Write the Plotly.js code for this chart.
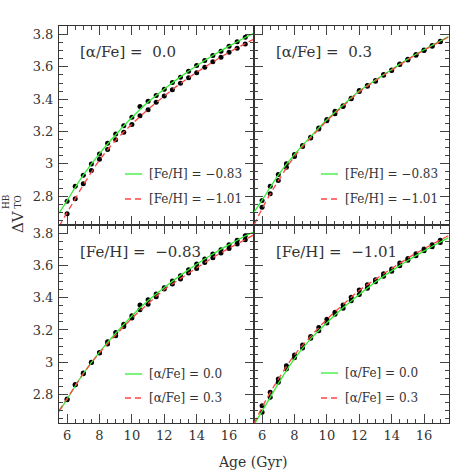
<!DOCTYPE html>
<html><head><meta charset="utf-8">
<script src="https://cdn.plot.ly/plotly-3.0.1.min.js"></script>
<style>html,body{margin:0;padding:0;background:#fff}#c{width:474px;height:474px}</style>
</head><body><div id="c"></div>
<script>
// Ages of model points (Gyr)
const age = [6,6.5,7,7.5,8,8.5,9,9.5,10,10.5,11,11.5,12,12.5,13,13.5,14,14.5,15,15.5,16,16.5,17];
// ΔV(HB-TO) model points
const dV_a00_m083 = [2.768,2.861,2.929,2.999,3.061,3.127,3.185,3.235,3.288,3.354,3.387,3.422,3.461,3.503,3.536,3.573,3.608,3.639,3.670,3.697,3.728,3.755,3.783];
const dV_a00_m101 = [2.690,2.783,2.876,2.958,3.028,3.088,3.148,3.195,3.243,3.298,3.334,3.381,3.420,3.458,3.499,3.532,3.563,3.598,3.631,3.659,3.690,3.715,3.742];
const dV_a03_m083 = [2.772,2.861,2.933,3.000,3.057,3.113,3.164,3.222,3.274,3.325,3.360,3.406,3.453,3.484,3.515,3.552,3.581,3.618,3.647,3.676,3.705,3.732,3.759];
const dV_a03_m101 = [2.731,2.814,2.896,2.978,3.045,3.107,3.160,3.216,3.267,3.309,3.354,3.402,3.447,3.480,3.511,3.548,3.577,3.614,3.643,3.672,3.701,3.728,3.755];
// fitted curves
const fitAge = [5.5,6,6.5,7,8,9,10,11,12,13,14,15,16,17,17.5];
const fit_a00_m083 = [2.694,2.772,2.853,2.930,3.063,3.180,3.287,3.382,3.463,3.538,3.607,3.670,3.728,3.782,3.806];
const fit_a00_m101 = [2.612,2.698,2.783,2.868,3.022,3.145,3.245,3.337,3.420,3.497,3.566,3.630,3.690,3.744,3.770];
const fit_a03_m083 = [2.700,2.775,2.853,2.930,3.058,3.168,3.272,3.363,3.450,3.518,3.584,3.648,3.706,3.760,3.787];
const fit_a03_m101 = [2.620,2.722,2.812,2.895,3.045,3.160,3.266,3.357,3.445,3.514,3.580,3.645,3.703,3.757,3.784];
// panel text
const panelTitles = ['[α/Fe] =  0.0','[α/Fe] =  0.3','[Fe/H] =  −0.83','[Fe/H] =  −1.01'];
const legendTop = ['[Fe/H] = −0.83','[Fe/H] = −1.01'];
const legendBot = ['[α/Fe] = 0.0','[α/Fe] = 0.3'];

const GREEN = '#33ee33', RED = '#ff4444', INK = '#333';
const FONT = 'DejaVu Serif, serif';
const panels = [
  {xa:'x', ya:'y',  g:[dV_a00_m083,fit_a00_m083], r:[dV_a00_m101,fit_a00_m101]},
  {xa:'x2',ya:'y2', g:[dV_a03_m083,fit_a03_m083], r:[dV_a03_m101,fit_a03_m101]},
  {xa:'x3',ya:'y3', g:[dV_a00_m083,fit_a00_m083], r:[dV_a03_m083,fit_a03_m083]},
  {xa:'x4',ya:'y4', g:[dV_a00_m101,fit_a00_m101], r:[dV_a03_m101,fit_a03_m101]}
];
const traces = [];
panels.forEach(p=>{
  [p.g[0],p.r[0]].forEach(v=>traces.push({x:age,y:v,xaxis:p.xa,yaxis:p.ya,mode:'markers',type:'scatter',
    marker:{color:'#000',size:5},showlegend:false,hoverinfo:'skip'}));
  traces.push({x:fitAge,y:p.g[1],xaxis:p.xa,yaxis:p.ya,mode:'lines',type:'scatter',line:{color:GREEN,width:1.3,shape:'spline'},showlegend:false});
  traces.push({x:fitAge,y:p.r[1],xaxis:p.xa,yaxis:p.ya,mode:'lines',type:'scatter',line:{color:RED,width:1.3,dash:'6px,4px',shape:'spline'},showlegend:false});
});

function xax(dom, labels){
  return {domain:dom,range:[5.5,17.54],dtick:2,tick0:0,ticks:'inside',ticklen:9,tickwidth:1,tickcolor:'#444',
    showline:true,linecolor:'#333',linewidth:1,mirror:'allticks',showgrid:false,zeroline:false,
    showticklabels:labels,tickfont:{family:FONT,size:13,color:INK},
    minor:{dtick:0.5,ticks:'inside',ticklen:4,tickcolor:'#444',showgrid:false}};
}
function yax(dom, labels, anchor){
  return {domain:dom,range:[2.624,3.853],dtick:0.2,tick0:0,ticks:'inside',ticklen:9,tickwidth:1,tickcolor:'#444',
    showline:true,linecolor:'#333',linewidth:1,mirror:'allticks',showgrid:false,zeroline:false,anchor:anchor,
    showticklabels:labels,tickfont:{family:FONT,size:13,color:INK},ticklabelstandoff:2,
    minor:{dtick:0.05,ticks:'inside',ticklen:4,tickcolor:'#444',showgrid:false}};
}
const W=474,H=474,L=59,R=449,T=26,B=423;
const px=v=>(v-L)/(R-L), py=v=>(B-v)/(B-T);

const annotations=[], shapes=[];
const titlePos=[[78,52],[274,52],[78,252],[274,252]];
panelTitles.forEach((t,i)=>annotations.push({xref:'paper',yref:'paper',x:px(titlePos[i][0]),y:py(titlePos[i][1]),
  xanchor:'left',yanchor:'middle',text:t,showarrow:false,font:{family:FONT,size:15,color:INK}}));
const legPos=[[125,174,199],[321,174,199],[125,374,398],[321,373,398]];
legPos.forEach((lp,i)=>{
  const labs = i<2?legendTop:legendBot;
  shapes.push({type:'line',xref:'paper',yref:'paper',x0:px(lp[0]),x1:px(lp[0]+17),y0:py(lp[1]),y1:py(lp[1]),line:{color:GREEN,width:1.3}});
  shapes.push({type:'line',xref:'paper',yref:'paper',x0:px(lp[0]),x1:px(lp[0]+17),y0:py(lp[2]),y1:py(lp[2]),line:{color:RED,width:1.3,dash:'6px,4px'}});
  annotations.push({xref:'paper',yref:'paper',x:px(lp[0]+22),y:py(lp[1]),xanchor:'left',yanchor:'middle',text:labs[0],showarrow:false,font:{family:FONT,size:12,color:INK}});
  annotations.push({xref:'paper',yref:'paper',x:px(lp[0]+22),y:py(lp[2]),xanchor:'left',yanchor:'middle',text:labs[1],showarrow:false,font:{family:FONT,size:12,color:INK}});
});
// y-axis label
annotations.push({xref:'paper',yref:'paper',x:px(18),y:py(222),xanchor:'center',yanchor:'middle',textangle:-90,text:'ΔV',showarrow:false,font:{family:FONT,size:15,color:INK}});
annotations.push({xref:'paper',yref:'paper',x:px(12),y:py(202),xanchor:'center',yanchor:'middle',textangle:-90,text:'HB<br>TO',showarrow:false,font:{family:FONT,size:9,color:INK}});
// x-axis label
annotations.push({xref:'paper',yref:'paper',x:px(253),y:py(462),xanchor:'center',yanchor:'middle',text:'Age (Gyr)',showarrow:false,font:{family:FONT,size:14,color:INK}});

const layout={width:W,height:H,margin:{l:L,r:W-R,t:T,b:H-B,pad:0},paper_bgcolor:'#fff',plot_bgcolor:'#fff',showlegend:false,
  xaxis:xax([0,0.5],false), yaxis:yax([0.5,1],true,'x'),
  xaxis2:xax([0.5,1],false), yaxis2:yax([0.5,1],false,'x2'),
  xaxis3:xax([0,0.5],true), yaxis3:yax([0,0.5],true,'x3'),
  xaxis4:xax([0.5,1],true), yaxis4:yax([0,0.5],false,'x4'),
  annotations, shapes};
layout.xaxis.anchor='y'; layout.xaxis2.anchor='y2'; layout.xaxis3.anchor='y3'; layout.xaxis4.anchor='y4';
Plotly.newPlot('c',traces,layout,{staticPlot:true});
</script></body></html>
